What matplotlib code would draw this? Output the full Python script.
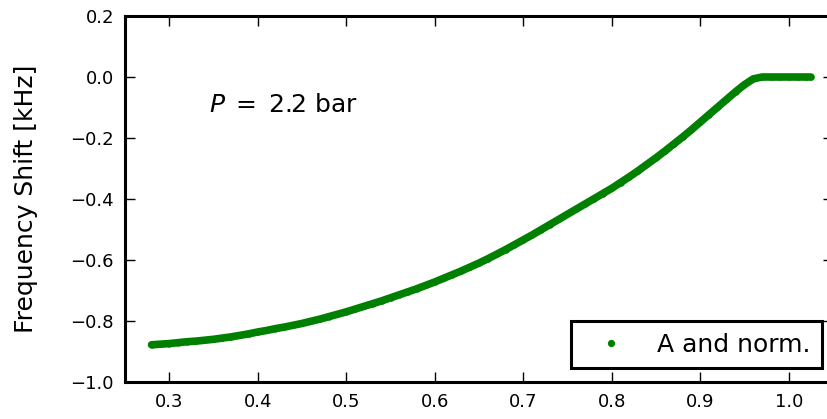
import numpy as np
import matplotlib
matplotlib.use("Agg")
import matplotlib.pyplot as plt

# frequency shift vs. temperature-like axis
x_vals = [0.28, 0.29, 0.30, 0.31, 0.32, 0.33, 0.34, 0.35, 0.36, 0.37,
          0.38, 0.39, 0.40, 0.41, 0.42, 0.43, 0.44, 0.45, 0.46, 0.47,
          0.48, 0.49, 0.50, 0.51, 0.52, 0.53, 0.54, 0.55, 0.56, 0.57,
          0.58, 0.59, 0.60, 0.61, 0.62, 0.63, 0.64, 0.65, 0.66, 0.67,
          0.68, 0.69, 0.70, 0.71, 0.72, 0.73, 0.74, 0.75, 0.76, 0.77,
          0.78, 0.79, 0.80, 0.81, 0.82, 0.83, 0.84, 0.85, 0.86, 0.87,
          0.88, 0.89, 0.90, 0.91, 0.92, 0.93, 0.94, 0.95, 0.96, 0.97,
          0.98, 0.99, 1.00, 1.01, 1.02, 1.025]
shift_vals = [-0.878, -0.876, -0.874, -0.871, -0.868, -0.866, -0.863, -0.860, -0.856, -0.852,
              -0.847, -0.842, -0.836, -0.831, -0.825, -0.820, -0.814, -0.808, -0.801, -0.794,
              -0.786, -0.778, -0.770, -0.761, -0.752, -0.743, -0.734, -0.724, -0.714, -0.704,
              -0.694, -0.683, -0.672, -0.660, -0.648, -0.636, -0.623, -0.610, -0.596, -0.581,
              -0.566, -0.550, -0.534, -0.518, -0.501, -0.484, -0.467, -0.450, -0.433, -0.416,
              -0.399, -0.382, -0.365, -0.346, -0.327, -0.307, -0.286, -0.265, -0.243, -0.220,
              -0.197, -0.173, -0.148, -0.123, -0.098, -0.073, -0.048, -0.025, -0.006, 0.0,
              0.0, 0.0, 0.0, 0.0, 0.0, 0.0]
x_ticks = [0.3, 0.4, 0.5, 0.6, 0.7, 0.8, 0.9, 1.0]
y_ticks = [-1.0, -0.8, -0.6, -0.4, -0.2, 0.0, 0.2]

plt.rcParams['font.family'] = ['DejaVu Sans']
plt.rcParams['mathtext.fontset'] = 'dejavusans'

fig = plt.figure(figsize=(8.27, 4.19), dpi=100)
ax = fig.add_axes([125/827, 37/419, 708/827, 366/419])

green = '#008000'
# thick trace behind the dense dots
ax.plot(x_vals, shift_vals, '-', color=green, lw=5.5, solid_capstyle='round',
        solid_joinstyle='round')
ax.plot(x_vals, shift_vals, '.', color=green, ms=7, label='A and norm.')

ax.set_xlim(0.25, 1.05)
ax.set_ylim(-1.0, 0.2)
ax.set_xticks(x_ticks)
ax.set_yticks(y_ticks)
ax.set_yticklabels(['\u22121.0', '\u22120.8', '\u22120.6', '\u22120.4', '\u22120.2', '0.0', '0.2'])
ax.tick_params(direction='in', length=7, width=1, labelsize=13, pad=8,
               top=True, right=True)
for sp in ax.spines.values():
    sp.set_linewidth(2.2)

ax.set_ylabel('Frequency Shift [kHz]', fontsize=18, labelpad=23)
ax.text(0.345, -0.092, '$P\\;=\\;2.2$ bar', fontsize=18, va='center')

leg = ax.legend(loc='lower right', numpoints=1, fontsize=18, fancybox=False,
                framealpha=1, markerscale=1.2,
                handlelength=2.3, handletextpad=0.7, borderpad=0.46,
                borderaxespad=0, bbox_to_anchor=(0.9845, 0.038))
leg.get_frame().set_edgecolor('black')
leg.get_frame().set_linewidth(2.2)

fig.savefig('out.png', dpi=100)
